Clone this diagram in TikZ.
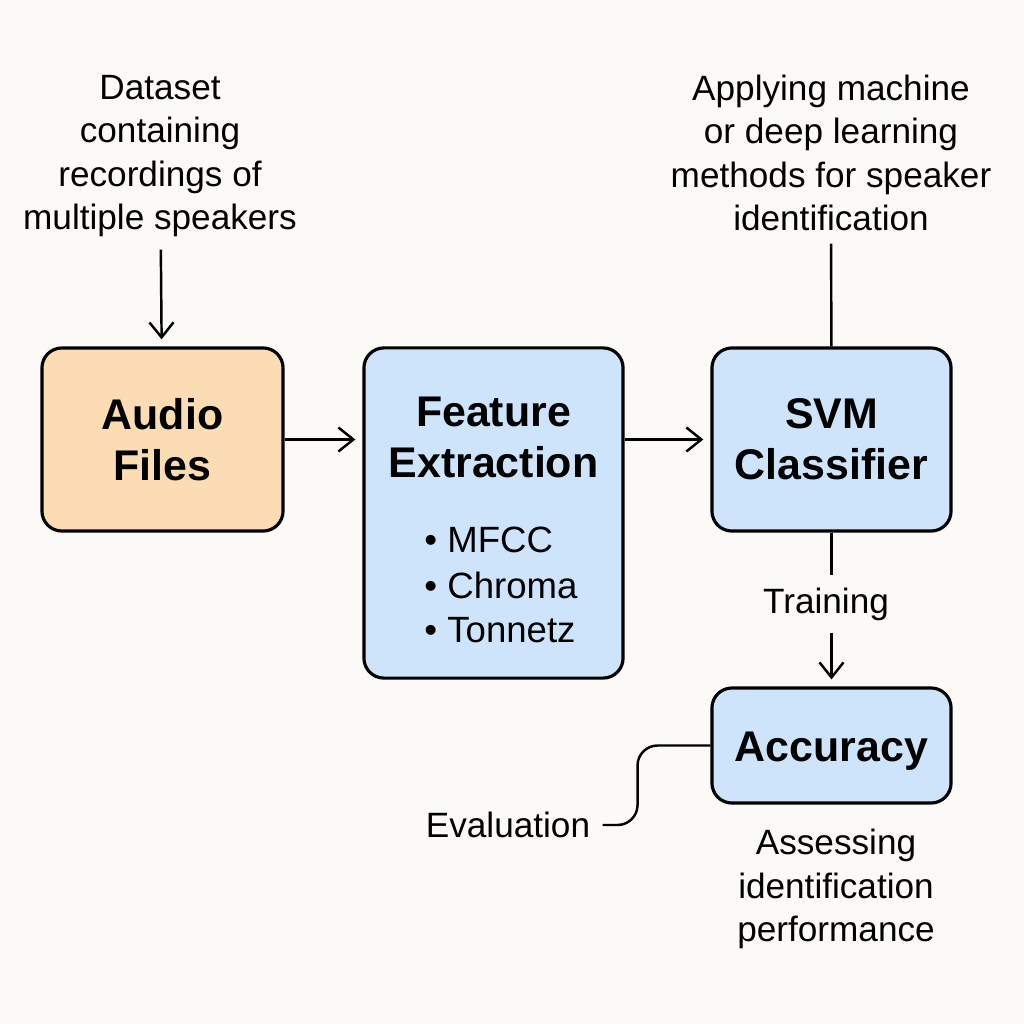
\documentclass[tikz,border=0pt]{standalone}
\usepackage{fontspec}
\setmainfont{Liberation Sans}
\usetikzlibrary{arrows.meta,positioning}
\definecolor{bgpaper}{HTML}{FBFAF7}
\definecolor{audiofill}{HTML}{FCDDB3}
\definecolor{stagefill}{HTML}{CDE4FB}

\begin{document}
\begin{tikzpicture}[x=0.01cm, y=-0.01cm,
    every node/.style={font=\fontsize{10}{12.4}\selectfont},
    stage/.style={draw=black, line width=0.9pt, rounded corners=0.2cm, fill=stagefill},
    title/.style={font=\fontsize{12.2}{14.5}\selectfont\bfseries, align=center},
    note/.style={align=center},
    flow/.style={line width=0.7pt, -{Straight Barb[length=1.5mm,width=2.4mm]}, shorten >=0.07cm}]
  \fill[bgpaper] (0,0) rectangle (1024,1024);
  % boxes
  \node[stage, fill=audiofill, minimum width=2.41cm, minimum height=1.83cm] (audio) at (162.5,439.5) {};
  \node[stage, minimum width=2.59cm, minimum height=3.30cm] (feat) at (493.5,513) {};
  \node[stage, minimum width=2.39cm, minimum height=1.83cm] (svm) at (831.5,439.5) {};
  \node[stage, minimum width=2.39cm, minimum height=1.15cm] (acc) at (831.5,745.5) {};
  \node[title] (audiotitle) at (audio.center) {Audio\\Files};
  \node[title] (feattitle) at (493.5,437) {Feature\\Extraction};
  \node[title] (svmtitle) at (svm.center) {SVM\\Classifier};
  \node[title] (acctitle) at (831.5,751) {Accuracy};
  \foreach \i/\t in {1/MFCC, 2/Chroma, 3/Tonnetz}{
    \node[anchor=west, font=\fontsize{10.4}{12.8}\selectfont] (item\i) at (412,495+45*\i) {\textbullet\ \t};
  }
  % notes
  \node[note] (dataset) at (160,156) {Dataset\\containing\\recordings of\\multiple speakers};
  \node[note] (apply) at (831,153) {Applying machine\\or deep learning\\methods for speaker\\identification};
  \node[note] (train) at (826,604) {Training};
  \node[note] (eval) at (508,825) {Evaluation};
  \node[note] (assess) at (836,889) {Assessing\\identification\\performance};
  % connectors
  \draw[flow] (dataset) -- (audio);
  \draw[flow] (audio.east) -- (audio.east -| feat.west);
  \draw[flow] (feat.east |- svm.west) -- (svm.west);
  \draw[line width=0.7pt] (apply) -- (svm);
  \draw[line width=0.7pt] (svm.south) -- (svm.south |- train.north);
  \draw[flow] (svm.south |- train.south) -- (acc.north);
  \draw[line width=0.7pt, rounded corners=0.2cm] (eval.east) -- ++(35,0) |- (acc.west);
\end{tikzpicture}
\end{document}
